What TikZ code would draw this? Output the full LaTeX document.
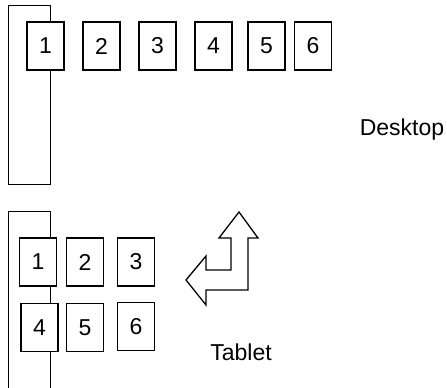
\documentclass[tikz,border=0pt]{standalone}
\usepackage{fontspec}
\setmainfont{Liberation Sans}
\usetikzlibrary{positioning}
\tikzset{
    panelnode/.style={
        draw, line width=1.3pt, minimum width=42pt, inner sep=0pt, anchor=north west
    },
    tilenode/.style={
        draw, line width=1.3pt, fill=white, minimum width=37pt, minimum height=48pt,
        inner sep=0pt, font=\fontsize{23}{27}\selectfont
    },
    labelnode/.style={
        font=\fontsize{23}{27}\selectfont
    },
    turnarrow/.style={
        draw, line width=1.3pt, line join=miter
    }
}

\begin{document}
\begin{tikzpicture}[x=1pt, y=-1pt]
    \useasboundingbox (0,0) rectangle (447,388);
    % desktop
    \node[panelnode, minimum height=179pt] (dpanel) at (8,5) {};
    \node[tilenode] (d1) at (45.5,46) {1};
    \node[tilenode] (d2) at (101.5,46) {2};
    \node[tilenode] (d3) at (157.5,46) {3};
    \node[tilenode] (d4) at (213.5,46) {4};
    \node[tilenode] (d5) at (266.5,46) {5};
    \node[tilenode] (d6) at (313,46) {6};
    \node[labelnode] (desktop) at (402,130) {Desktop};
    % tablet
    \node[panelnode, minimum height=185pt] (tpanel) at (8,211) {};
    \node[tilenode] (t1) at (38,262) {1};
    \node[tilenode] (t2) at (85,262) {2};
    \node[tilenode] (t3) at (136,262) {3};
    \node[tilenode] (t4) at (39.5,327.5) {4};
    \node[tilenode] (t5) at (85,327.5) {5};
    \node[tilenode] (t6) at (136,326.5) {6};
    \node[labelnode] (tablet) at (241,352) {Tablet};
    % turn arrow
    \draw[turnarrow] (239,212) -- (258,238) -- (248,238) -- (248,290) -- (206,290)
        -- (206,305) -- (186,280) -- (206,256) -- (206,270) -- (231,270)
        -- (231,238) -- (219,238) -- cycle;
\end{tikzpicture}
\end{document}
